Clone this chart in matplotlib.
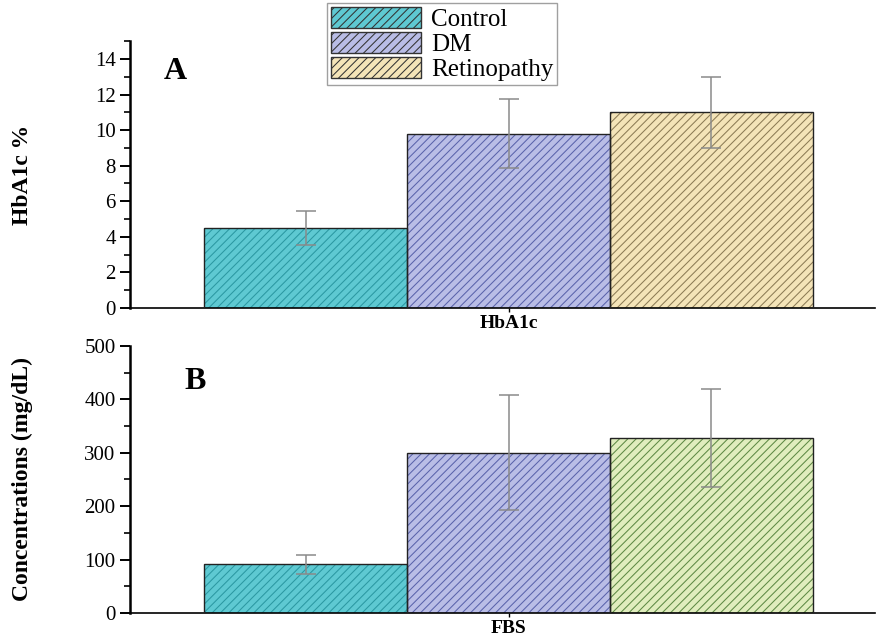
import numpy as np
import matplotlib
matplotlib.use('Agg')
import matplotlib.pyplot as plt
from matplotlib.patches import Patch
from matplotlib.ticker import MultipleLocator

plt.rcParams['font.family'] = ['Liberation Serif', 'DejaVu Serif']
plt.rcParams['hatch.linewidth'] = 0.75

# data
groups = ['Control', 'DM', 'Retinopathy']
hba1c_mean = [4.5, 9.8, 11.0]
hba1c_err = [0.95, 1.95, 2.0]
fbs_mean = [91, 300, 328]
fbs_err = [17, 108, 92]

# colours
face_a = ['#5ec9d2', '#b9bde6', '#f4e4b8']
hatch_a = ['#2b98a2', '#5a63ab', '#8c7b55']
face_b = ['#5ec9d2', '#b9bde6', '#e0edbd']
hatch_b = ['#2b98a2', '#5a63ab', '#5e8a44']

x = np.arange(len(groups))

fig = plt.figure(figsize=(8.8, 6.44), dpi=100)
ax1 = fig.add_axes([0.148, 0.522, 0.846, 0.414])
ax2 = fig.add_axes([0.148, 0.048, 0.846, 0.415])


def draw(ax, means, errs, faces, hatches):
    for i in range(len(means)):
        ax.bar(x[i], means[i], width=1.0, color=faces[i], edgecolor=hatches[i],
               hatch='////', linewidth=0, zorder=2)
        ax.bar(x[i], means[i], width=1.0, fill=False, edgecolor='#222222',
               linewidth=1.0, zorder=3)
    ax.errorbar(x, means, yerr=errs, fmt='none', ecolor='#8a8a8a',
                elinewidth=1.1, capsize=7, capthick=1.1, zorder=4)
    ax.spines['top'].set_visible(False)
    ax.spines['right'].set_visible(False)
    ax.spines['left'].set_linewidth(1.8)
    ax.spines['bottom'].set_linewidth(1.2)
    ax.set_xlim(-0.865, 2.805)
    ax.tick_params(axis='y', which='major', length=7, width=1.4, labelsize=15)
    ax.tick_params(axis='y', which='minor', length=4, width=1.2)
    ax.tick_params(axis='x', length=3, width=1.0, labelsize=14, pad=2)


draw(ax1, hba1c_mean, hba1c_err, face_a, hatch_a)
ax1.set_ylim(0, 15)
ax1.yaxis.set_major_locator(MultipleLocator(2))
ax1.yaxis.set_minor_locator(MultipleLocator(1))
ax1.set_yticks(np.arange(0, 15, 2))
ax1.set_xticks([1])
ax1.set_xticklabels(['HbA1c'], fontweight='bold')
ax1.set_ylabel('HbA1c %', fontsize=17, fontweight='bold')
ax1.text(-0.7, 12.9, 'A', fontsize=23, fontweight='bold')

draw(ax2, fbs_mean, fbs_err, face_b, hatch_b)
ax2.set_ylim(0, 500)
ax2.yaxis.set_major_locator(MultipleLocator(100))
ax2.yaxis.set_minor_locator(MultipleLocator(50))
ax2.set_xticks([1])
ax2.set_xticklabels(['FBS'], fontweight='bold')
ax2.set_ylabel('Concentrations (mg/dL)', fontsize=17, fontweight='bold')
ax2.text(-0.6, 420, 'B', fontsize=23, fontweight='bold')

for ax in (ax1, ax2):
    ax.yaxis.set_label_coords(-0.13, 0.5)

handles = [Patch(facecolor=face_a[i], edgecolor=hatch_a[i], hatch='////', linewidth=0)
           for i in range(3)]
leg = fig.legend(handles, groups, loc='upper left', bbox_to_anchor=(0.372, 0.995),
                 fontsize=18, frameon=True, fancybox=False, edgecolor='#888888',
                 handlelength=3.6, handleheight=0.9, handletextpad=0.4,
                 borderpad=0.15, labelspacing=0.05, borderaxespad=0)
for h in leg.legend_handles:
    h.set_edgecolor('#333333')
    h.set_linewidth(1.0)

fig.savefig('out.png', dpi=100)
